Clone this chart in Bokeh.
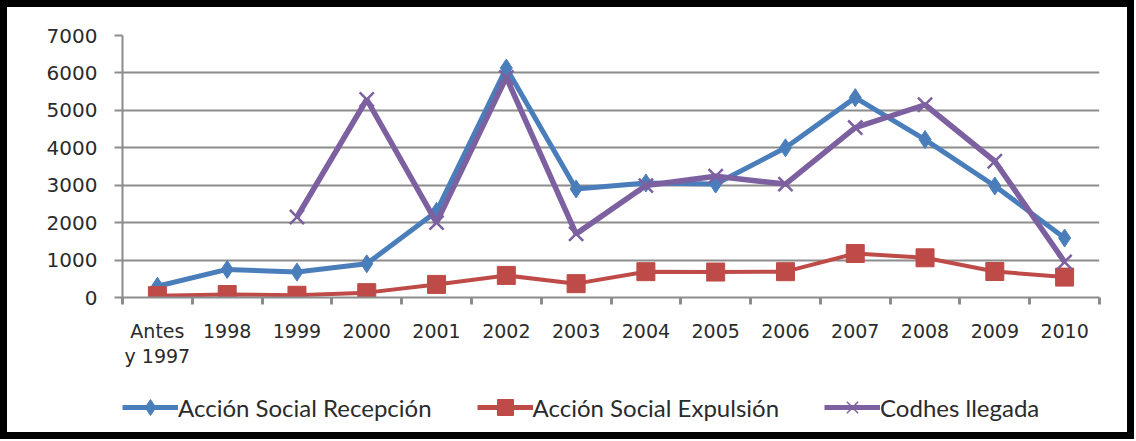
from bokeh.plotting import figure
from bokeh.models import (Range1d, FixedTicker, Legend, LegendItem, ColumnDataSource)
from bokeh.layouts import column
from bokeh.embed import file_html
from bokeh.resources import INLINE

nan = float("nan")

categories = ["Antes\ny 1997", "1998", "1999", "2000", "2001", "2002", "2003",
              "2004", "2005", "2006", "2007", "2008", "2009", "2010"]
recepcion = [300, 750, 680, 900, 2300, 6130, 2900, 3060, 3030, 4000, 5340, 4220, 2980, 1590]
expulsion = [50, 80, 60, 130, 350, 590, 370, 690, 680, 690, 1175, 1060, 695, 545]
codhes = [nan, nan, 2150, 5290, 2000, 5880, 1700, 2990, 3240, 3030, 4540, 5150, 3640, 950]
y_ticks = [0, 1000, 2000, 3000, 4000, 5000, 6000, 7000]
series_names = ["Acción Social Recepción", "Acción Social Expulsión", "Codhes llegada"]

BLUE = "#4A7EBB"
RED = "#BE4B48"
PURPLE = "#7D60A0"
GRID = "#8C8C8C"
TXT = "#2B2B2B"
FONT = "DejaVu Sans"

W = 1120
H_MAIN = 380
H_LEG = 45

n = len(categories)
xpos = [i + 0.5 for i in range(n)]          # category centres
edges = list(range(n + 1))                  # category boundaries
src = ColumnDataSource(dict(x=xpos, rec=recepcion, exp=expulsion, cod=codhes))

p = figure(width=W, height=H_MAIN, x_range=Range1d(0, n),
           y_range=Range1d(0, 7000), output_backend="svg", toolbar_location=None,
           min_border_left=115, min_border_right=28, min_border_top=28, min_border_bottom=H_MAIN - 290)
p.outline_line_color = None
p.background_fill_color = "white"
p.border_fill_color = "white"

# y axis
yax = p.yaxis[0]
yax.ticker = FixedTicker(ticks=y_ticks)
yax.axis_line_color = GRID
yax.axis_line_width = 2
yax.major_tick_line_color = GRID
yax.major_tick_line_width = 2
yax.major_tick_out = 8
yax.major_tick_in = 0
yax.minor_tick_line_color = None
yax.major_label_standoff = 17
yax.major_label_text_font = FONT
yax.major_label_text_font_size = "20px"
yax.major_label_text_color = TXT

p.ygrid.grid_line_color = GRID
p.ygrid.grid_line_width = 2
p.ygrid.ticker = FixedTicker(ticks=y_ticks)
p.xgrid.visible = False

# x axis: labels at category centres, tick marks at category boundaries
xax = p.xaxis[0]
xax.ticker = FixedTicker(ticks=xpos, minor_ticks=edges)
xax.major_label_overrides = {x: c for x, c in zip(xpos, categories)}
xax.axis_line_color = GRID
xax.axis_line_width = 2
xax.major_tick_line_color = None
xax.major_tick_out = 0
xax.major_tick_in = 0
xax.minor_tick_line_color = GRID
xax.minor_tick_line_width = 3
xax.minor_tick_out = 7
xax.minor_tick_in = 0
xax.major_label_standoff = 15
xax.major_label_text_font = FONT
xax.major_label_text_font_size = "19px"
xax.major_label_text_color = TXT
xax.major_label_text_line_height = 1.15

p.line("x", "rec", source=src, line_color=BLUE, line_width=5)
p.scatter("x", "rec", source=src, marker="diamond", size=18, fill_color=BLUE, line_color=BLUE)
p.line("x", "exp", source=src, line_color=RED, line_width=4)
p.scatter("x", "exp", source=src, marker="square", size=18, fill_color=RED, line_color=RED)
p.line("x", "cod", source=src, line_color=PURPLE, line_width=5.5)
p.scatter("x", "cod", source=src, marker="x", size=20, line_color=PURPLE, line_width=2.5)

# legend strip below the chart
leg = figure(width=W, height=H_LEG, x_range=Range1d(0, 1), y_range=Range1d(0, 1),
             output_backend="svg", toolbar_location=None,
             x_axis_location=None, y_axis_location=None,
             min_border_left=0, min_border_right=0, min_border_top=0, min_border_bottom=0)
leg.grid.visible = False
leg.outline_line_color = None
leg.border_fill_color = "white"
blank = ColumnDataSource(dict(x=[nan], y=[nan]))
r1 = [leg.line("x", "y", source=blank, line_color=BLUE, line_width=5),
      leg.scatter("x", "y", source=blank, marker="diamond", fill_color=BLUE, line_color=BLUE)]
r2 = [leg.line("x", "y", source=blank, line_color=RED, line_width=5),
      leg.scatter("x", "y", source=blank, marker="square", fill_color=RED, line_color=RED)]
r3 = [leg.line("x", "y", source=blank, line_color=PURPLE, line_width=5),
      leg.scatter("x", "y", source=blank, marker="x", line_color=PURPLE, line_width=1.5)]

legend = Legend(items=[LegendItem(label=series_names[0], renderers=r1),
                       LegendItem(label=series_names[1], renderers=r2),
                       LegendItem(label=series_names[2], renderers=r3)],
                orientation="horizontal", location=(0, 5))
legend.glyph_width = 56
legend.glyph_height = 40
legend.label_height = 24
legend.label_standoff = 0
legend.spacing = 45
legend.label_text_font = "Lato"
legend.label_text_font_size = "24px"
legend.label_text_color = TXT
legend.border_line_color = None
legend.background_fill_alpha = 0
legend.padding = 0
legend.margin = 0
leg.add_layout(legend, "center")

layout = column(p, leg, styles={"border": "7px solid black"})

open("out.html", "w").write(file_html(layout, INLINE))
